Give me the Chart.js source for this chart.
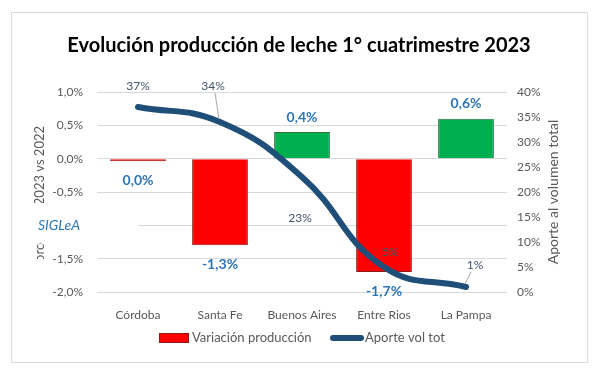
<!DOCTYPE html>
<html>
<head>
<meta charset="utf-8">
<script src="https://cdn.jsdelivr.net/npm/chart.js@4"></script>
<style>
  html, body { margin: 0; padding: 0; background: #fff; }
  #wrap { width: 600px; height: 369px; }
</style>
</head>
<body>
<div id="wrap"><canvas id="chart" width="600" height="369"></canvas></div>
<script>
// data
const categories = ['Córdoba', 'Santa Fe', 'Buenos Aires', 'Entre Rios', 'La Pampa'];
const variacion = [-0.04, -1.3, 0.4, -1.7, 0.6];          // % 2023 vs 2022
const aporte = [37, 34, 23, 5, 1];                         // % del volumen total
const variacionLabels = ['0,0%', '-1,3%', '0,4%', '-1,7%', '0,6%'];
const aporteLabels = ['37%', '34%', '23%', '5%', '1%'];

const FONT = 'Lato, "Open Sans", sans-serif';
const GREY = '#595959';
const RED = '#FF0000', GREEN = '#00B050', BLUE = '#1F4E79';

// where the line labels sit relative to their point (dx, dy, leader line?)
const aporteLabelPos = [
  [0, -21, false], [-7, -36, true], [-2, 41, false], [6, -15, false], [9, -22, true]
];

const decoration = {
  id: 'decoration',
  beforeDraw(chart) {
    const ctx = chart.ctx;
    ctx.save();
    ctx.fillStyle = '#fff';
    ctx.fillRect(0, 0, chart.width, chart.height);
    ctx.strokeStyle = '#D9D9D9';
    ctx.lineWidth = 1;
    ctx.strokeRect(11.5, 12.5, 576, 350);
    ctx.restore();
  },
  afterDraw(chart) {
    const ctx = chart.ctx;
    ctx.save();
    // title
    ctx.fillStyle = '#000';
    ctx.font = 'bold 20px ' + FONT;
    ctx.textAlign = 'center';
    ctx.textBaseline = 'middle';
    ctx.fillText('Evolución producción de leche 1° cuatrimestre 2023', 299, 46);

    // bar labels
    const barMeta = chart.getDatasetMeta(0);
    ctx.font = 'bold 14px ' + FONT;
    ctx.fillStyle = '#2E75B6';
    barMeta.data.forEach((el, i) => {
      const neg = variacion[i] < 0;
      ctx.fillText(variacionLabels[i], el.x, neg ? el.y + 19 : el.y - 15);
    });

    // line labels
    const lineMeta = chart.getDatasetMeta(1);
    ctx.font = '12px ' + FONT;
    lineMeta.data.forEach((pt, i) => {
      const [dx, dy, leader] = aporteLabelPos[i];
      const lx = pt.x + dx, ly = pt.y + dy;
      if (leader) {
        ctx.strokeStyle = '#A6A6A6';
        ctx.lineWidth = 1;
        ctx.beginPath();
        ctx.moveTo(lx + (dx < 0 ? 2 : -4), ly + (dy < 0 ? 7 : -7));
        ctx.lineTo(pt.x - 1, pt.y - 3);
        ctx.stroke();
      }
      ctx.fillStyle = '#44546A';
      ctx.fillText(aporteLabels[i], lx, ly);
    });

    // left axis title (partly hidden like in the original)
    ctx.save();
    ctx.beginPath();
    ctx.rect(20, 100, 40, 159);
    ctx.clip();
    ctx.translate(40, 126);
    ctx.rotate(-Math.PI / 2);
    ctx.font = '13px ' + FONT;
    ctx.fillStyle = GREY;
    ctx.textAlign = 'right';
    ctx.fillText('Variación porcentual 2023 vs 2022', 0, 0);
    ctx.restore();

    // SIGLeA box
    ctx.fillStyle = '#fff';
    ctx.fillRect(28, 203, 110, 40);
    ctx.fillStyle = '#2E75B6';
    ctx.font = 'italic 14px ' + FONT;
    ctx.textAlign = 'left';
    ctx.fillText('SIGLeA', 38, 225);

    // legend
    const ly = 338;
    ctx.font = '13px ' + FONT;
    ctx.fillStyle = RED;
    ctx.fillRect(159.5, ly - 4.5, 29, 9);
    ctx.strokeStyle = '#8B1A1A';
    ctx.lineWidth = 1;
    ctx.strokeRect(159.5, ly - 4.5, 29, 9);
    ctx.fillStyle = GREY;
    ctx.fillText(chart.data.datasets[0].label, 192, ly);
    ctx.strokeStyle = BLUE;
    ctx.lineWidth = 6;
    ctx.lineCap = 'round';
    ctx.beginPath();
    ctx.moveTo(333, ly);
    ctx.lineTo(361, ly);
    ctx.stroke();
    ctx.fillText(chart.data.datasets[1].label, 365, ly);

    // right axis title
    ctx.translate(553, 192);
    ctx.rotate(-Math.PI / 2);
    ctx.textAlign = 'center';
    ctx.fillStyle = GREY;
    ctx.font = '14px ' + FONT;
    ctx.fillText('Aporte al volumen total', 0, 0);
    ctx.restore();
  }
};

new Chart(document.getElementById('chart'), {
  data: {
    labels: categories,
    datasets: [
      {
        type: 'bar',
        label: 'Variación producción',
        data: variacion,
        yAxisID: 'y',
        order: 1,
        backgroundColor: variacion.map(v => v < 0 ? RED : GREEN),
        borderColor: variacion.map(v => v < 0 ? '#8B1A1A' : '#2F6E3F'),
        borderWidth: 1,
        barPercentage: 0.68,
        categoryPercentage: 1
      },
      {
        type: 'line',
        label: 'Aporte vol tot',
        data: aporte,
        yAxisID: 'y1',
        order: 0,
        borderColor: BLUE,
        backgroundColor: BLUE,
        borderWidth: 6,
        borderCapStyle: 'round',
        pointRadius: 0,
        tension: 0.45,
        fill: false
      }
    ]
  },
  options: {
    responsive: false,
    animation: false,
    layout: { padding: { top: 92, left: 0, right: 0, bottom: 47 } },
    plugins: {
      tooltip: { enabled: false },
      legend: { display: false }
    },
    scales: {
      x: {
        grid: { display: false },
        border: { display: false },
        ticks: { color: GREY, font: { family: FONT, size: 12 }, padding: 8 },
        afterFit(s) { s.height = 30; }
      },
      y: {
        position: 'left',
        min: -2, max: 1,
        ticks: {
          stepSize: 0.5,
          color: GREY,
          font: { family: FONT, size: 12 },
          padding: 14,
          callback: v => v.toFixed(1).replace('.', ',') + '%'
        },
        grid: { color: '#D9D9D9', drawTicks: false },
        border: { display: false },
        afterFit(s) { s.width = 97; }
      },
      y1: {
        position: 'right',
        min: 0, max: 40,
        ticks: {
          stepSize: 5,
          color: GREY,
          font: { family: FONT, size: 12 },
          padding: 10,
          callback: v => v + '%'
        },
        grid: { display: false, drawTicks: false },
        border: { display: false },
        afterFit(s) { s.width = 93; }
      }
    }
  },
  plugins: [decoration]
});
</script>
</body>
</html>
